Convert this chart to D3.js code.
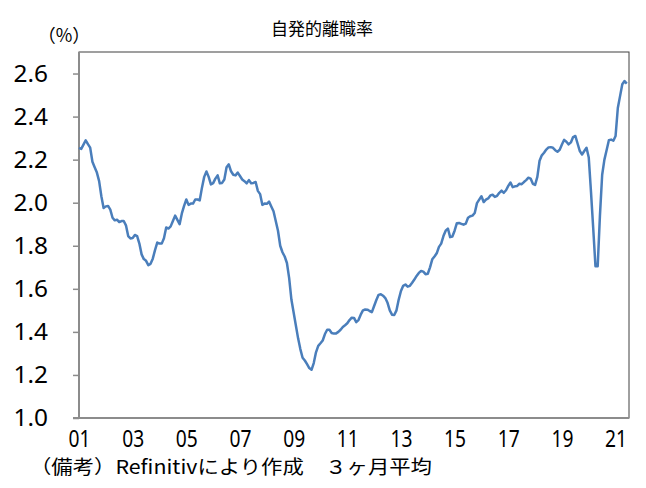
<!DOCTYPE html>
<html>
<head>
<meta charset="utf-8">
<script src="https://cdn.jsdelivr.net/npm/d3@7"></script>
<style>
  body { margin: 0; background: #fff; }
  .num { font-family: "Noto Sans", "DejaVu Sans", sans-serif; }
  .jp { font-family: "Noto Sans CJK JP", sans-serif; }
</style>
</head>
<body>
<div id="chart"></div>
<script>
// monthly, Jan 2001 - Jun 2021 (3-month average, %)
var startYear = 2001;
var quitRate = [
  2.255, 2.25, 2.27, 2.29, 2.272, 2.256, 2.19, 2.165, 2.14, 2.10, 2.03, 1.975,
  1.983, 1.985, 1.968, 1.93, 1.918, 1.921, 1.91, 1.915, 1.915, 1.895, 1.845, 1.834,
  1.836, 1.85, 1.845, 1.81, 1.76, 1.738, 1.73, 1.71, 1.716, 1.74, 1.78, 1.815,
  1.81, 1.81, 1.835, 1.885, 1.88, 1.89, 1.915, 1.94, 1.92, 1.90, 1.95, 1.985,
  2.015, 1.99, 1.996, 1.996, 2.015, 2.015, 2.011, 2.07, 2.12, 2.145, 2.12, 2.085,
  2.091, 2.112, 2.127, 2.09, 2.092, 2.108, 2.165, 2.178, 2.146, 2.13, 2.127, 2.14,
  2.124, 2.108, 2.10, 2.09, 2.105, 2.09, 2.092, 2.096, 2.055, 2.04, 1.99, 1.996,
  1.995, 2.005, 1.982, 1.96, 1.915, 1.87, 1.80, 1.77, 1.75, 1.72, 1.65, 1.55,
  1.49, 1.43, 1.37, 1.32, 1.28, 1.267, 1.25, 1.232, 1.224, 1.255, 1.305, 1.335,
  1.347, 1.36, 1.39, 1.41, 1.41, 1.395, 1.392, 1.393, 1.40, 1.41, 1.423, 1.431,
  1.44, 1.455, 1.466, 1.465, 1.445, 1.455, 1.48, 1.50, 1.504, 1.503, 1.497, 1.492,
  1.52, 1.548, 1.572, 1.575, 1.568, 1.557, 1.535, 1.50, 1.48, 1.478, 1.50, 1.55,
  1.59, 1.614, 1.62, 1.61, 1.614, 1.628, 1.643, 1.66, 1.674, 1.683, 1.68, 1.668,
  1.67, 1.70, 1.737, 1.75, 1.765, 1.795, 1.81, 1.845, 1.87, 1.88, 1.84, 1.843,
  1.87, 1.905, 1.906, 1.902, 1.898, 1.903, 1.93, 1.937, 1.94, 1.952, 1.998, 2.014,
  2.03, 2.003, 2.014, 2.02, 2.034, 2.037, 2.027, 2.032, 2.046, 2.056, 2.046, 2.058,
  2.078, 2.094, 2.072, 2.076, 2.078, 2.088, 2.086, 2.096, 2.105, 2.116, 2.112, 2.088,
  2.083, 2.12, 2.195, 2.22, 2.232, 2.247, 2.257, 2.258, 2.255, 2.244, 2.237, 2.246,
  2.27, 2.292, 2.283, 2.271, 2.28, 2.305, 2.31, 2.275, 2.24, 2.224, 2.24, 2.255,
  2.21, 2.05, 1.88, 1.705, 1.705, 1.94, 2.13, 2.20, 2.245, 2.29, 2.293, 2.288,
  2.31, 2.44, 2.495, 2.55, 2.565, 2.553
];
var xTickLabels = ["01","03","05","07","09","11","13","15","17","19","21"];
var yTicks = [1.0, 1.2, 1.4, 1.6, 1.8, 2.0, 2.2, 2.4, 2.6];
var title = "自発的離職率";
var unitLabel = "（%）";
var note = "（備考）Refinitivにより作成　３ヶ月平均";

var w = 646, h = 488;
var mLeft = 79, mRight = 629, mTop = 52, mBottom = 418;

var svg = d3.select("#chart")
    .append("svg")
    .attr("width", w)
    .attr("height", h);

var x = d3.scaleLinear().domain([0, 246]).range([mLeft, mRight]);
var y = d3.scaleLinear().domain([1.0, 2.7]).range([mBottom, mTop]);

// plot area frame
svg.append("rect")
    .attr("x", mLeft)
    .attr("y", mTop)
    .attr("width", mRight - mLeft)
    .attr("height", mBottom - mTop)
    .attr("fill", "none")
    .attr("stroke", "#404040")
    .attr("stroke-width", 1);

// narrow digits like the original font
function narrow(sel, perChar) {
    sel.attr("textLength", function(){ return this.textContent.length * perChar; })
       .attr("lengthAdjust", "spacingAndGlyphs");
}

// y axis
var yAxis = svg.append("g")
    .attr("transform", "translate(" + mLeft + ",0)")
    .call(d3.axisLeft(y).tickValues(yTicks).tickSize(6).tickSizeOuter(0)
        .tickFormat(function(d){ return d.toFixed(1); }));
yAxis.select(".domain").attr("stroke", "#8c8c8c").attr("stroke-width", 2)
    .attr("d", "M0," + y(1.0) + "V" + mTop);
yAxis.selectAll(".tick line").attr("stroke", "#8c8c8c").attr("stroke-width", 1.5);
yAxis.selectAll(".tick text")
    .attr("class", "num")
    .attr("x", -31)
    .attr("font-size", "24px")
    .attr("fill", "#000")
    .call(narrow, 11.5);

// x axis
var xAxis = svg.append("g")
    .attr("transform", "translate(0," + mBottom + ")")
    .call(d3.axisBottom(x).tickValues(d3.range(0, 241, 24)).tickSize(0).tickSizeOuter(0)
        .tickFormat(function(d, i){ return xTickLabels[i]; }));
xAxis.select(".domain").attr("stroke", "#8c8c8c").attr("stroke-width", 2)
    .attr("d", "M" + (mLeft - 6) + ",0H" + mRight);
xAxis.selectAll(".tick text")
    .attr("class", "num")
    .attr("y", 12)
    .attr("font-size", "24px")
    .attr("fill", "#000")
    .call(narrow, 11);

// line
var line = d3.line()
    .x(function(d, i){ return x(i); })
    .y(function(d){ return y(d); });

svg.append("path")
    .datum(quitRate)
    .attr("d", line)
    .attr("fill", "none")
    .attr("stroke", "#4a7ebb")
    .attr("stroke-width", 2.5)
    .attr("stroke-linejoin", "round");

// texts
svg.append("text")
    .attr("class", "jp")
    .attr("x", 322)
    .attr("y", 35)
    .attr("text-anchor", "middle")
    .attr("font-size", "17px")
    .text(title);

svg.append("text")
    .attr("class", "jp")
    .attr("x", 64)
    .attr("y", 42)
    .attr("text-anchor", "middle")
    .attr("font-size", "18px")
    .text(unitLabel);

svg.append("text")
    .attr("class", "jp")
    .attr("x", 30)
    .attr("y", 474)
    .attr("font-size", "19px")
    .attr("textLength", 402)
    .attr("lengthAdjust", "spacingAndGlyphs")
    .text(note);
</script>
</body>
</html>
